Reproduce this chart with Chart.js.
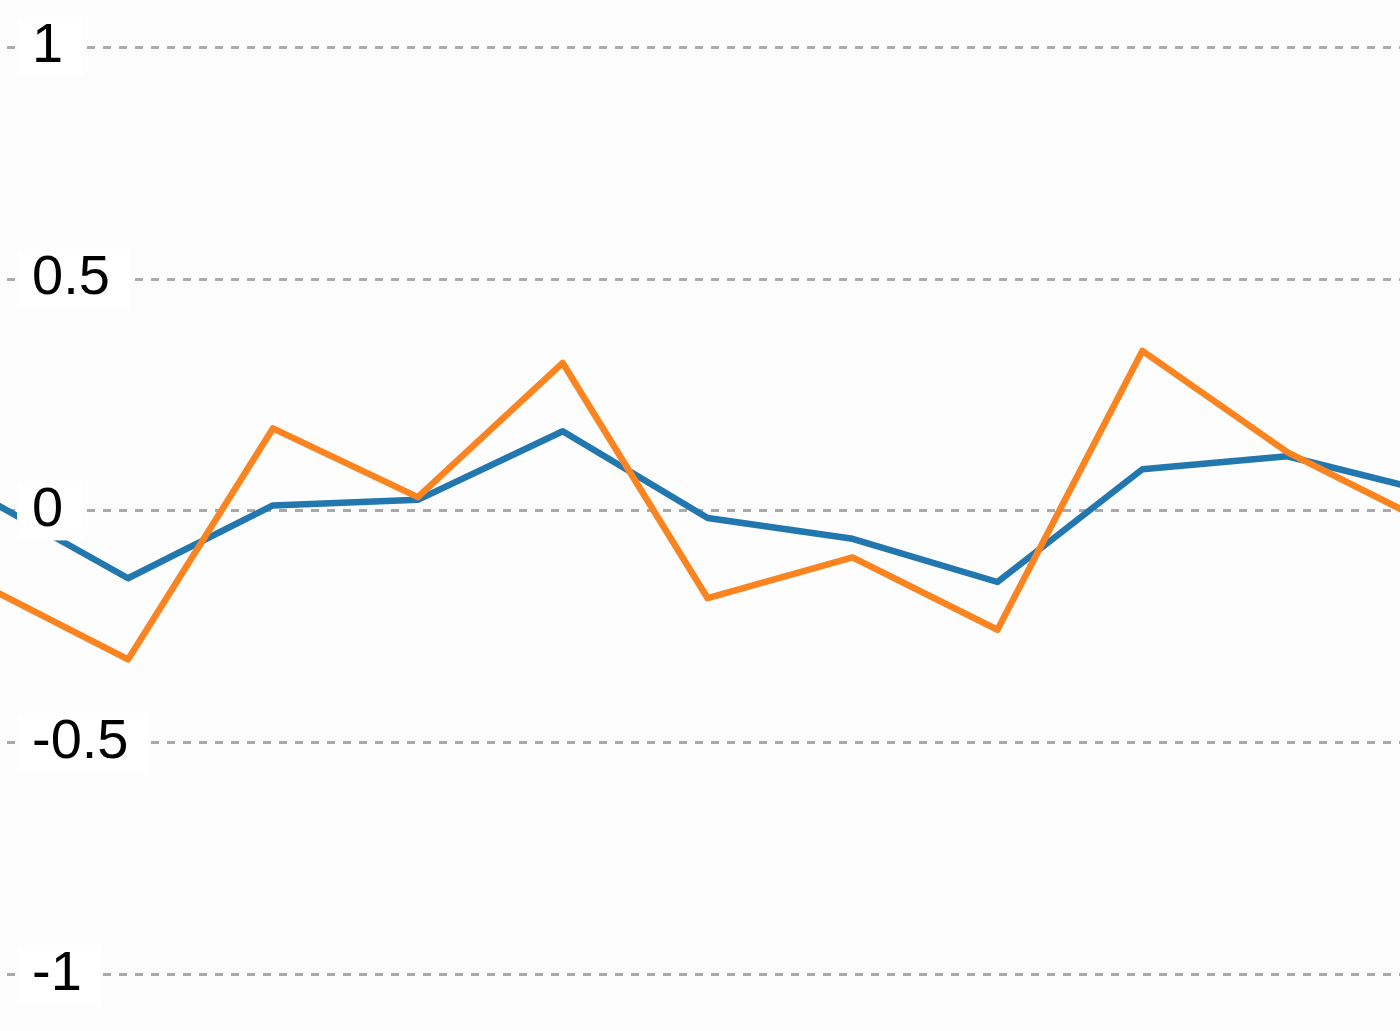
<!DOCTYPE html>
<html>
<head>
<meta charset="utf-8">
<script src="https://cdn.jsdelivr.net/npm/chart.js@4"></script>
<style>
  html, body { margin: 0; padding: 0; background: #fdfdfd; }
  #wrap { width: 1400px; height: 1031px; position: relative; overflow: hidden; }
</style>
</head>
<body>
<div id="wrap"><canvas id="chart"></canvas></div>
<script>
// ---------- DATI ----------
const categories = [0, 1, 2, 3, 4, 5, 6, 7, 8, 9, 10];
const serieBlu = [0.03, -0.145, 0.012, 0.024, 0.172, -0.015, -0.06, -0.153, 0.09, 0.118, 0.04];
const serieArancio = [-0.16, -0.32, 0.178, 0.03, 0.319, -0.188, -0.1, -0.256, 0.345, 0.127, -0.03];
const yTicks = [-1, -0.5, 0, 0.5, 1];

// finestra visibile (il grafico e' "tagliato" ai bordi)
const xMin = 0.1166, xMax = 9.778;
const yMin = -1.1207, yMax = 1.1013;

const ctx = document.getElementById('chart');

new Chart(ctx, {
  type: 'line',
  data: {
    labels: categories,
    datasets: [
      {
        label: 'arancio',
        data: serieArancio,
        borderColor: '#fb8420',
        borderWidth: 6.5,
        borderJoinStyle: 'round',
        pointRadius: 0,
        tension: 0,
        fill: false,
      },
      {
        label: 'blu',
        data: serieBlu,
        borderColor: '#2277ae',
        borderWidth: 6.5,
        borderJoinStyle: 'round',
        pointRadius: 0,
        tension: 0,
        fill: false,
      }
    ]
  },
  options: {
    responsive: true,
    maintainAspectRatio: false,
    animation: false,
    layout: { padding: 0 },
    plugins: { legend: { display: false }, tooltip: { enabled: false } },
    scales: {
      x: { type: 'linear', display: false, min: xMin, max: xMax },
      y: {
        min: yMin,
        max: yMax,
        afterBuildTicks: s => { s.ticks = yTicks.map(v => ({ value: v })); },
        // etichette sopra l'area del grafico: nessuno spazio riservato
        afterFit: s => { s.width = 0; s.paddingTop = 0; s.paddingBottom = 0; },
        grid: { color: '#a9a9a9', lineWidth: 3, drawTicks: false },
        border: { display: false, dash: [8, 8], dashOffset: 9 },
        ticks: {
          mirror: true,
          padding: 32,
          z: 1,
          color: '#000',
          callback: v => String(v),
          font: { family: '"Liberation Sans", Arial, sans-serif', size: 56, lineHeight: 1.05 },
          showLabelBackdrop: true,
          backdropColor: '#ffffff',
          backdropPadding: { left: 15, right: 20, top: 0, bottom: 0 },
        }
      }
    }
  }
});
</script>
</body>
</html>
